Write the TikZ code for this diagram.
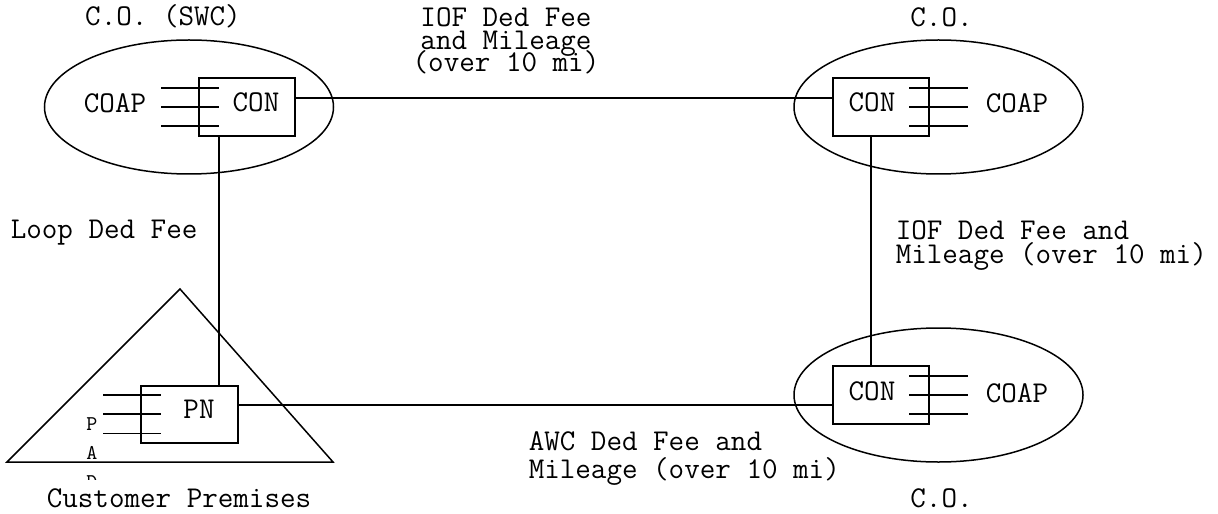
\documentclass[tikz,border=0pt]{standalone}
\usepackage{fontspec}
\usetikzlibrary{shapes.geometric}
\begin{document}
\begin{tikzpicture}[x=0.5pt,y=-0.5pt,line width=0.75pt,
  co/.style={draw,ellipse,minimum width=144.5pt,minimum height=67pt,inner sep=0pt},
  conbox/.style={draw,rectangle,minimum width=48pt,minimum height=29pt,inner sep=0pt},
  lbl/.style={font=\ttfamily\fontsize{15.1}{16}\selectfont,inner sep=0pt},
  small/.style={font=\ttfamily\fontsize{10.5}{12}\selectfont,inner sep=0pt}]
\useasboundingbox (0,0) rectangle (1218,513);

% central offices
\node[co] (e1) at (189,107) {};
\node[co] (e2) at (938.5,107) {};
\node[co] (e3) at (938.5,395) {};

% customer premises triangle
\coordinate (t1) at (7,462);
\coordinate (t2) at (180,289);
\coordinate (t3) at (333,462);
\draw (t1) -- (t2) -- (t3) -- cycle;

% boxes
\node[conbox] (b1) at (247,107) {};
\node[conbox] (b2) at (881,107) {};
\node[conbox] (b3) at (881,395) {};
\node[draw,rectangle,minimum width=48.5pt,minimum height=28.5pt,inner sep=0pt] (pn) at (189.5,414.5) {};

% stubs
\foreach \y in {88,107,126} {
  \draw (161,\y) -- (219,\y);
  \draw (909,\y) -- (968,\y);
}
\foreach \y in {376,395,414} {
  \draw (909,\y) -- (968,\y);
}
\foreach \y in {395,414,433.5} {
  \draw (103,\y) -- (161,\y);
}

% box labels
\node[lbl,anchor=base] (l1) at (256,112) {CON};
\node[lbl,anchor=base] (l2) at (115,113) {COAP};
\node[lbl,anchor=base] (l3) at (872,112) {CON};
\node[lbl,anchor=base] (l4) at (1017,113) {COAP};
\node[lbl,anchor=base] (l5) at (872,400) {CON};
\node[lbl,anchor=base] (l6) at (1017,402) {COAP};
\node[lbl,anchor=base] (l7) at (199,418) {PN};

% connectors
\draw ([yshift=4.5pt]b1.east) coordinate (c1) -- (c1 -| b2.west);
\draw ([xshift=-14pt]b1.south) coordinate (c2) -- (c2 |- pn.north);
\draw ([xshift=-5pt]b2.south) coordinate (c3) -- (c3 |- b3.north);
\draw ([yshift=4.75pt]pn.east) coordinate (c4) -- (c4 -| b3.west);

% PAD (clipped)
\begin{scope}
\clip (0,0) rectangle (1218,479);
\node[small,anchor=base] (p1) at (92,430) {P};
\node[small,anchor=base] (p2) at (92,459) {A};
\node[small,anchor=base] (p3) at (92,488) {D};
\end{scope}

% text labels
\node[lbl,anchor=base] (t-co1) at (163,26) {C.O. (SWC)};
\node[lbl,anchor=base] (t-iof1a) at (506,27) {IOF Ded Fee};
\node[lbl,anchor=base] (t-iof1b) at (506,50) {and Mileage};
\node[lbl,anchor=base] (t-iof1c) at (506,72) {(over 10 mi)};
\node[lbl,anchor=base] (t-co2) at (941.5,27) {C.O.};
\node[lbl,anchor=base west] (t-loop) at (10,238) {Loop Ded Fee};
\node[lbl,anchor=base west] (t-iof2a) at (895,239) {IOF Ded Fee and};
\node[lbl,anchor=base west] (t-iof2b) at (895,263) {Mileage (over 10 mi)};
\node[lbl,anchor=base west] (t-awc1) at (528,450) {AWC Ded Fee and};
\node[lbl,anchor=base west] (t-awc2) at (528,478) {Mileage (over 10 mi)};
\node[lbl,anchor=base] (t-cp) at (179,507) {Customer Premises};
\node[lbl,anchor=base] (t-co3) at (941.5,507) {C.O.};
\end{tikzpicture}
\end{document}
